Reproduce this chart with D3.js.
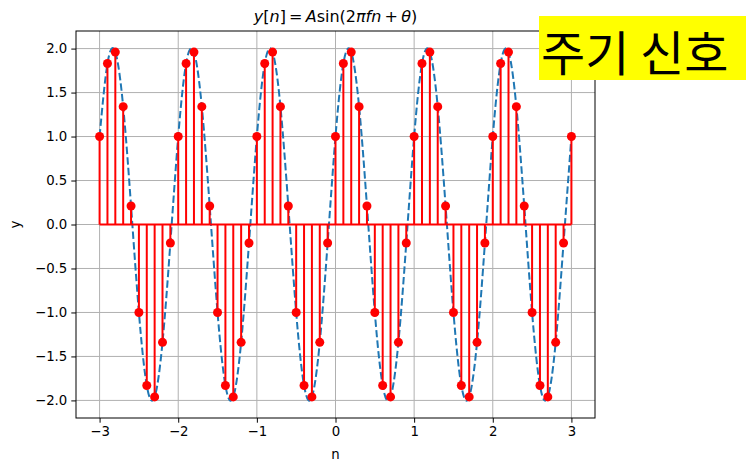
<!DOCTYPE html>
<html>
<head>
<meta charset="utf-8">
<script src="https://cdn.jsdelivr.net/npm/d3@7"></script>
<style>
  html, body { margin: 0; padding: 0; background: #fff; }
  svg { display: block; font-family: "DejaVu Sans", sans-serif; }
</style>
</head>
<body>
<svg id="chart" width="746" height="462"></svg>
<script>
// Sample positions n (step 0.1 from -3 to 3)
const nValues = [
  -3.0, -2.9, -2.8, -2.7, -2.6, -2.5, -2.4, -2.3, -2.2, -2.1,
  -2.0, -1.9, -1.8, -1.7, -1.6, -1.5, -1.4, -1.3, -1.2, -1.1,
  -1.0, -0.9, -0.8, -0.7, -0.6, -0.5, -0.4, -0.3, -0.2, -0.1,
   0.0,  0.1,  0.2,  0.3,  0.4,  0.5,  0.6,  0.7,  0.8,  0.9,
   1.0,  1.1,  1.2,  1.3,  1.4,  1.5,  1.6,  1.7,  1.8,  1.9,
   2.0,  2.1,  2.2,  2.3,  2.4,  2.5,  2.6,  2.7,  2.8,  2.9,
   3.0
];

// Sampled signal y[n]
const yValues = [
  1.00, 1.83, 1.96, 1.34, 0.21, -1.00, -1.83, -1.96, -1.34, -0.21,
  1.00, 1.83, 1.96, 1.34, 0.21, -1.00, -1.83, -1.96, -1.34, -0.21,
  1.00, 1.83, 1.96, 1.34, 0.21, -1.00, -1.83, -1.96, -1.34, -0.21,
  1.00, 1.83, 1.96, 1.34, 0.21, -1.00, -1.83, -1.96, -1.34, -0.21,
  1.00, 1.83, 1.96, 1.34, 0.21, -1.00, -1.83, -1.96, -1.34, -0.21,
  1.00, 1.83, 1.96, 1.34, 0.21, -1.00, -1.83, -1.96, -1.34, -0.21,
  1.00
];

const xTicks = [-3, -2, -1, 0, 1, 2, 3];
const yTicks = [-2.0, -1.5, -1.0, -0.5, 0.0, 0.5, 1.0, 1.5, 2.0];

const data = nValues.map((n, i) => ({ n, y: yValues[i] }));

const svg = d3.select("#chart");
const plot = { left: 76, right: 595, top: 31, bottom: 418 };

const x = d3.scaleLinear().domain([-3.3, 3.3]).range([plot.left, plot.right]);
const y = d3.scaleLinear().domain([-2.2, 2.2]).range([plot.bottom, plot.top]);

const fmtY = d => d3.format(".1f")(d).replace("-", "\u2212");
const fmtX = d => String(d).replace("-", "\u2212");

// Grid
const grid = svg.append("g").attr("stroke", "#b0b0b0").attr("stroke-width", 1);
grid.selectAll("line.gx").data(xTicks).join("line")
  .attr("x1", d => x(d)).attr("x2", d => x(d))
  .attr("y1", plot.top).attr("y2", plot.bottom);
grid.selectAll("line.gy").data(yTicks).join("line")
  .attr("x1", plot.left).attr("x2", plot.right)
  .attr("y1", d => y(d)).attr("y2", d => y(d));

// Continuous reference curve (dashed)
svg.append("path")
  .datum(data)
  .attr("fill", "none")
  .attr("stroke", "#1f77b4")
  .attr("stroke-width", 2)
  .attr("stroke-dasharray", "7.4,3.2")
  .attr("d", d3.line().x(d => x(d.n)).y(d => y(d.y)).curve(d3.curveNatural));

// Stems
svg.append("g").selectAll("line").data(data).join("line")
  .attr("x1", d => x(d.n)).attr("x2", d => x(d.n))
  .attr("y1", y(0)).attr("y2", d => y(d.y))
  .attr("stroke", "red").attr("stroke-width", 2);

// Baseline
svg.append("line")
  .attr("x1", x(nValues[0])).attr("x2", x(nValues[nValues.length - 1]))
  .attr("y1", y(0)).attr("y2", y(0))
  .attr("stroke", "red").attr("stroke-width", 2);

// Markers
svg.append("g").selectAll("circle").data(data).join("circle")
  .attr("cx", d => x(d.n)).attr("cy", d => y(d.y))
  .attr("r", 4.5).attr("fill", "red");

// Axes
const xAxis = d3.axisBottom(x).tickValues(xTicks).tickFormat(fmtX).tickSize(4.7).tickPadding(4);
const yAxis = d3.axisLeft(y).tickValues(yTicks).tickFormat(fmtY).tickSize(4.7).tickPadding(4);

const gx = svg.append("g").attr("transform", `translate(0,${plot.bottom})`).call(xAxis);
const gy = svg.append("g").attr("transform", `translate(${plot.left},0)`).call(yAxis);
[gx, gy].forEach(g => {
  g.select(".domain").remove();
  g.selectAll(".tick line").attr("stroke", "#000").attr("stroke-width", 1);
  g.selectAll(".tick text").attr("fill", "#000").style("font-size", "13.3px")
    .style("font-family", "'DejaVu Sans', sans-serif");
});

// Frame
svg.append("rect")
  .attr("x", plot.left).attr("y", plot.top)
  .attr("width", plot.right - plot.left).attr("height", plot.bottom - plot.top)
  .attr("fill", "none").attr("stroke", "#000").attr("stroke-width", 1);

// Axis labels
svg.append("text").attr("x", (plot.left + plot.right) / 2).attr("y", 459)
  .attr("text-anchor", "middle").style("font-size", "13.3px").text("n");
svg.append("text").attr("transform", `translate(20,${y(0)}) rotate(-90)`)
  .attr("text-anchor", "middle").style("font-size", "13.3px").text("y");

// Title
const title = svg.append("text").attr("x", (plot.left + plot.right) / 2).attr("y", 22)
  .attr("text-anchor", "middle").style("font-size", "16px");
[
  ["y", true], ["[", false], ["n", true], ["]\u2009=\u2009", false], ["A", true],
  ["sin(2", false], ["\u03c0fn", true], ["\u2009+\u2009", false], ["\u03b8", true], [")", false]
].forEach(([t, it]) => title.append("tspan").style("font-style", it ? "italic" : "normal").text(t));

// Highlighted caption
svg.append("rect").attr("x", 539).attr("y", 16).attr("width", 207).attr("height", 64).attr("fill", "yellow");
svg.append("text").attr("x", 541).attr("y", 71)
  .style("font-family", "'Noto Sans CJK KR', sans-serif").style("font-size", "48px")
  .attr("fill", "#000").text("주기 신호");
</script>
</body>
</html>
